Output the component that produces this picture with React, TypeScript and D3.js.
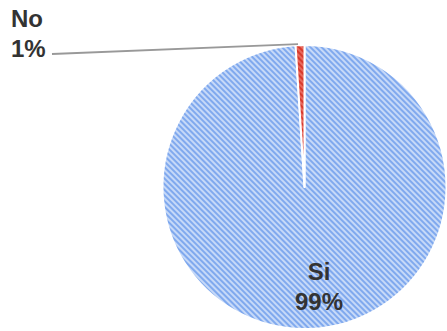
import React from "react";
import * as d3 from "d3";

const categories = ["Si", "No"];
const values = [99, 1];
const percentLabels = ["99%", "1%"];

const W = 447;
const H = 331;
const cx = 304.5;
const cy = 187;
const radius = 142;

const fills = [
  { id: "hatch-si", bg: "#c6d9f8", line: "#80a9ee" },
  { id: "hatch-no", bg: "#e86a5e", line: "#d83a2c" },
];

export default function App() {
  const pie = d3
    .pie<number>()
    .sort(null)
    .startAngle(0)
    .endAngle(2 * Math.PI)(values);
  const arc = d3.arc<d3.PieArcDatum<number>>().innerRadius(0).outerRadius(radius);

  // "Si" label sits inside the big slice, low in the pie
  const siX = 319;
  // "No" label sits outside, joined by a leader line to the slice rim
  const noSlice = pie[1];
  const noMid = (noSlice.startAngle + noSlice.endAngle) / 2;
  const rimX = cx + Math.sin(noMid) * radius;
  const rimY = cy - Math.cos(noMid) * radius;

  return (
    <svg
      width={W}
      height={H}
      style={{ position: "absolute", left: 0, top: 0, background: "#fff" }}
    >
      <defs>
        {fills.map((f) => (
          <pattern
            key={f.id}
            id={f.id}
            width={4}
            height={4}
            patternUnits="userSpaceOnUse"
            patternTransform="rotate(45)"
          >
            <rect width={4} height={4} fill={f.bg} />
            <rect width={4} height={2} fill={f.line} />
          </pattern>
        ))}
      </defs>
      <g transform={`translate(${cx},${cy})`}>
        {pie.map((d, i) => (
          <path
            key={categories[i]}
            d={arc(d) || ""}
            fill={`url(#${fills[i].id})`}
            stroke="#fff"
            strokeWidth={2}
            strokeLinejoin="round"
          />
        ))}
      </g>
      <line
        x1={52}
        y1={54}
        x2={rimX - 2}
        y2={rimY - 1}
        stroke="#999"
        strokeWidth={1.8}
      />
      <g
        fontFamily="'Liberation Sans', Arial, sans-serif"
        fontWeight="bold"
        fontSize={24}
        fill="#333"
      >
        <text x={11} y={27}>
          {categories[1]}
        </text>
        <text x={11} y={57}>
          {percentLabels[1]}
        </text>
        <text x={siX} y={280} textAnchor="middle">
          {categories[0]}
        </text>
        <text x={siX} y={310} textAnchor="middle">
          {percentLabels[0]}
        </text>
      </g>
    </svg>
  );
}
